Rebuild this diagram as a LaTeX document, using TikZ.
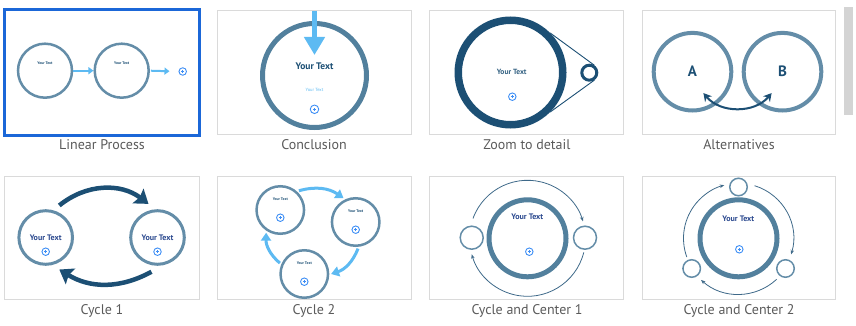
\documentclass[tikz,border=0pt]{standalone}
\usepackage{fontspec}
\setmainfont{PT Sans}
\usetikzlibrary{arrows.meta,positioning}

\definecolor{framegrey}{HTML}{DADADA}
\definecolor{selblue}{HTML}{1B67D8}
\definecolor{capgrey}{HTML}{5A5A5A}
\definecolor{ringblue}{HTML}{648DA8}
\definecolor{darkring}{HTML}{52809D}
\definecolor{skyblue}{HTML}{5DBAF2}
\definecolor{deepblue}{HTML}{1C4F74}
\definecolor{navytext}{HTML}{2A488E}
\definecolor{plusblue}{HTML}{3D8EF5}
\definecolor{bargrey}{HTML}{D4D4D4}

\tikzset{
  thumb/.style={draw=framegrey, line width=1pt},
  thumbcap/.style={anchor=base, text=capgrey, font=\fontsize{14}{16}\selectfont},
  ring/.style={circle, draw=ringblue, inner sep=0pt},
  smalltext/.style={font=\fontsize{3.8}{4}\selectfont\bfseries, text=deepblue},
  yourtext/.style={font=\fontsize{8}{9}\selectfont\bfseries, text=navytext},
  addicon/.style={circle, draw=plusblue, line width=0.9pt, minimum size=7.5pt, inner sep=0pt,
    path picture={\draw[plusblue, line width=0.8pt]
      ([xshift=-1.7pt]path picture bounding box.center) -- ([xshift=1.7pt]path picture bounding box.center)
      ([yshift=-1.7pt]path picture bounding box.center) -- ([yshift=1.7pt]path picture bounding box.center);}},
  skyarrow/.style={skyblue, line width=2pt, -{Triangle[length=5pt,width=7pt]}},
  loopsky/.style={skyblue, line width=3pt, -{Triangle[length=8pt,width=10pt]}},
  loopdeep/.style={deepblue, line width=4.5pt, -{Stealth[length=13pt,width=18pt,inset=2pt]}},
  thinarc/.style={deepblue!85, line width=0.8pt, -{Stealth[length=4.5pt,width=3.5pt]}}
}

\begin{document}
\begin{tikzpicture}[x=1pt, y=1pt]
  \useasboundingbox (0,0) rectangle (856,-326);

  % frames, scroll bar and captions
  \foreach \xa/\xb/\ya/\yb in {217/411/11/134, 429/623/11/134, 642/835/11/134,
      4/199/176/299, 217/411/176/299, 429/623/176/299, 642/835/176/299}
    \draw[thumb] (\xa,-\ya) rectangle (\xb,-\yb);
  \draw[selblue, line width=3pt] (4.5,-9.5) rectangle (199.5,-135.5);
  \fill[bargrey] (844,-7) rectangle (853,-115);
  \foreach \cx/\cy/\txt [count=\i] in {102/149/Linear Process, 314/149/Conclusion,
      527/149/Zoom to detail, 739/149/Alternatives, 102/314/Cycle 1, 314/314/Cycle 2,
      527/314/Cycle and Center 1, 739/314/Cycle and Center 2}
    \node[thumbcap] (cap\i) at (\cx,-\cy) {\txt};

  % linear process
  \node[ring, line width=2.5pt, minimum size=54pt] (lp1) at (45,-70.7) {};
  \node[ring, line width=2.5pt, minimum size=54pt] (lp2) at (121.7,-70.7) {};
  \node[addicon] (lp3) at (182.7,-71.5) {};
  \node[smalltext] (lpt1) at ([yshift=8pt]lp1.center) {Your Text};
  \node[smalltext] (lpt2) at ([yshift=8pt]lp2.center) {Your Text};
  \draw[skyarrow] (lp1) -- (lp2);
  \draw[skyarrow, shorten <=1pt, shorten >=9pt] (lp2.east) -- (lp3.west);

  % conclusion
  \node[ring, draw=darkring, line width=5pt, minimum size=104pt] (cc) at (314.5,-75.5) {};
  \node[font=\fontsize{9.5}{11}\selectfont\bfseries, text=deepblue] (cct) at (314.5,-66.7) {Your Text};
  \node[font=\fontsize{4.5}{5}\selectfont, text=skyblue] (ccs) at (314.5,-90) {Your Text};
  \node[addicon, minimum size=8.5pt] (ccp) at (314.5,-109.3) {};
  \coordinate (cctop) at (314.5,-11);
  \coordinate (cctip) at (314.5,-55);
  \draw[skyblue, line width=5pt, -{Triangle[length=18pt,width=20pt]}] (cctop) -- (cctip);

  % zoom to detail
  \node[circle, draw=deepblue, line width=7.5pt, minimum size=104.5pt, inner sep=0pt] (zd) at (510.5,-72.5) {};
  \node[circle, draw=deepblue, line width=3pt, minimum size=15pt, inner sep=0pt] (zs) at (589.3,-72.7) {};
  \node[font=\fontsize{7.5}{9}\selectfont\bfseries, text=deepblue!90] (zdt) at (511.7,-72.3) {Your Text};
  \node[addicon] (zdp) at (512.3,-96.7) {};
  \draw[deepblue, line width=0.9pt] (zd.45) -- (zs.55) (zd.-45) -- (zs.-55);

  % alternatives
  \node[ring, line width=4pt, minimum size=77.6pt, font=\fontsize{15}{16}\selectfont\bfseries,
    text=deepblue] (alta) at (692.5,-71.7) {A};
  \node[ring, line width=4pt, minimum size=77.6pt, font=\fontsize{15}{16}\selectfont\bfseries,
    text=deepblue] (altb) at (782.5,-71.7) {B};
  \coordinate (alta1) at ([shift={(-63:24)}]alta.center);
  \coordinate (altb1) at ([shift={(-117:24)}]altb.center);
  \draw[deepblue, line width=2pt, {Stealth[length=8pt,width=9pt]}-{Stealth[length=8pt,width=9pt]}]
    (alta1) to[bend right=50] (altb1);

  % cycle 1
  \node[ring, line width=3pt, minimum size=53.6pt, outer sep=8pt, yourtext] (cy1) at (45.7,-237.5) {Your Text};
  \node[ring, line width=3pt, minimum size=53.6pt, outer sep=8pt, yourtext] (cy2) at (157.5,-237.5) {Your Text};
  \node[addicon] (cy1p) at (45.7,-251.7) {};
  \node[addicon] (cy2p) at (157.5,-251.7) {};
  \draw[loopdeep] (cy1.67) to[bend left=38] (cy2.105);
  \draw[loopdeep] (cy2.-100) to[bend left=30] (cy1.-67);

  % cycle 2
  \foreach \n/\px/\py in {1/280.3/210, 2/355.7/222, 3/304.3/274}{
    \node[ring, line width=2.5pt, minimum size=47.5pt, outer sep=3pt] (cv\n) at (\px,-\py) {};
    \node[smalltext] (cvt\n) at ([yshift=11pt]cv\n.center) {Your Text};
    \node[addicon] (cvp\n) at ([yshift=-7.7pt]cv\n.center) {};
  }
  \draw[loopsky] (cv1.46) to[bend left=25] (cv2.117);
  \draw[loopsky] (cv2.-85) to[bend left=25] (cv3.0);
  \draw[loopsky] (cv3.156) to[bend left=25] (cv1.-122);

  % cycle and center 1
  \node[ring, draw=darkring, line width=5pt, minimum size=77pt] (cm1) at (527.5,-238.3) {};
  \node[yourtext] (cm1t) at (527.3,-216.7) {Your Text};
  \node[addicon] (cm1p) at (529.3,-251.7) {};
  \node[ring, line width=1.5pt, minimum size=23pt] (cm1l) at (471.7,-237.7) {};
  \node[ring, line width=1.5pt, minimum size=23pt] (cm1r) at (585,-237.7) {};
  \draw[thinarc] ([shift={(160:58)}]cm1.center) arc[start angle=160, end angle=17, radius=58pt];
  \draw[thinarc] ([shift={(-14:58)}]cm1.center) arc[start angle=-14, end angle=-164, radius=58pt];

  % cycle and center 2
  \node[ring, draw=darkring, line width=5pt, minimum size=77pt] (cm2) at (738.5,-238.3) {};
  \node[yourtext] (cm2t) at (738.3,-218.3) {Your Text};
  \node[addicon] (cm2p) at (739.3,-249.3) {};
  \foreach \n/\px/\py in {t/738.5/187, l/691.7/268.5, r/785.5/268.5}
    \node[ring, line width=1.5pt, minimum size=17.5pt] (cm2\n) at (\px,-\py) {};
  \draw[thinarc] ([shift={(73:55)}]cm2.center) arc[start angle=73, end angle=-17, radius=55pt];
  \draw[thinarc] ([shift={(-47:56)}]cm2.center) arc[start angle=-47, end angle=-132, radius=56pt];
  \draw[thinarc] ([shift={(200:55)}]cm2.center) arc[start angle=200, end angle=105, radius=55pt];
\end{tikzpicture}
\end{document}
